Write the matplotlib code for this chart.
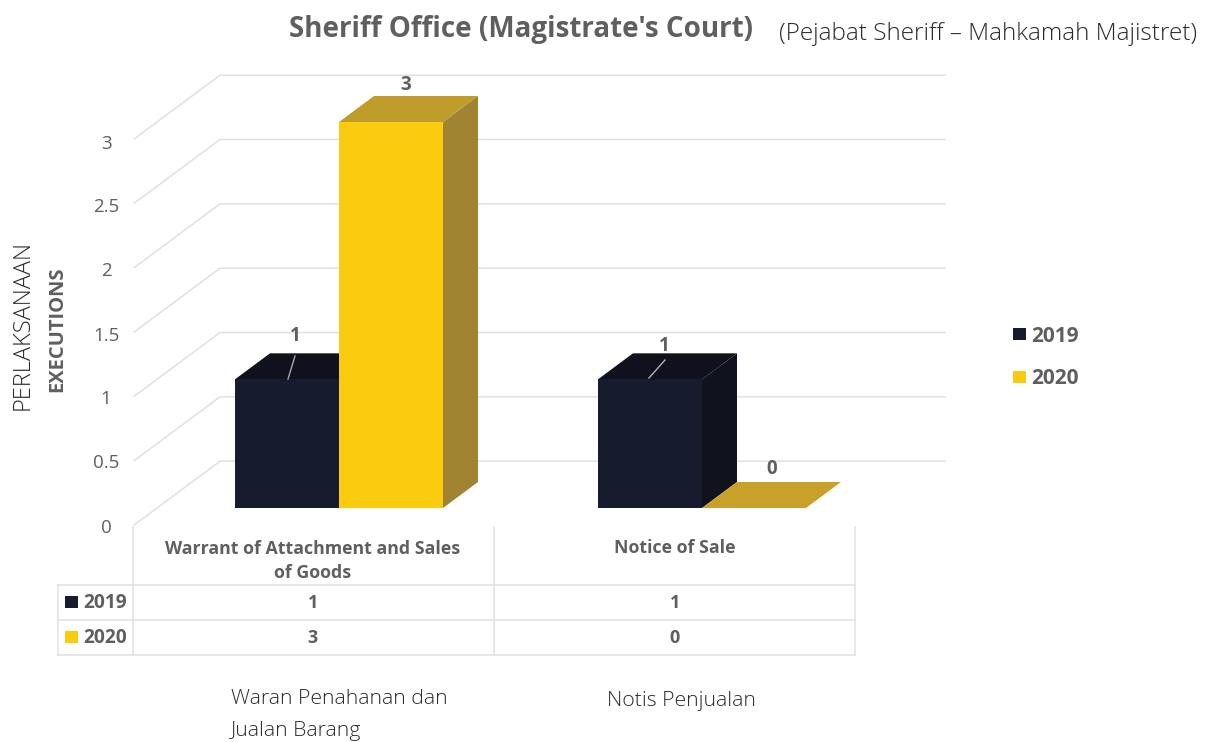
import matplotlib
matplotlib.use('Agg')
import matplotlib.pyplot as plt
from matplotlib.patches import Polygon, Rectangle

categories = ['Warrant of Attachment and Sales\nof Goods', 'Notice of Sale']
years = ['2019', '2020']
values_2019 = [1, 1]
values_2020 = [3, 0]
y_ticks = [0, 0.5, 1, 1.5, 2, 2.5, 3]
y_tick_labels = ['0', '0.5', '1', '1.5', '2', '2.5', '3']

W, H = 1219, 742
# pixels for the fake 3D projection
cat_px = [339, 702]
cat_step = cat_px[1] - cat_px[0]
unit_px = 128.67
zero_px = 508
depth_x = 35 / cat_step
depth_y = 26 / unit_px
bar_w = 104 / cat_step

GREY = '#5f5f5f'
LINE = '#e0e0e0'
NAVY = ('#161b2e', '#0f111c', '#10121e')
GOLD = ('#fbcb10', '#c09c2a', '#a08432')
FLAT_GOLD = '#c9a02a'
FONT = ['Open Sans', 'DejaVu Sans']

fig = plt.figure(figsize=(W / 100, H / 100), dpi=100)

# value axes: x in category units, y in chart values
ax = fig.add_axes([0, 0, 1, 1])
ax.set_xlim(-cat_px[0] / cat_step, (W - cat_px[0]) / cat_step)
ax.set_ylim((zero_px - H) / unit_px, zero_px / unit_px)
ax.axis('off')

# overlay in pixels for the text and table
px = fig.add_axes([0, 0, 1, 1])
px.set_xlim(0, W)
px.set_ylim(H, 0)
px.axis('off')
px.patch.set_alpha(0)


def proj(x, v, d):
    return (x + d * depth_x, v + d * depth_y)


# walls and gridlines
wall_x = (220 - cat_px[0]) / cat_step - 1.8 * depth_x
wall_end = (945 - cat_px[0]) / cat_step - 1.8 * depth_x
for v in y_ticks:
    a = proj(wall_x, v, -0.65)
    b = proj(wall_x, v, 1.8)
    c = proj(wall_end, v, 1.8)
    ax.plot([a[0], b[0], c[0]], [a[1], b[1], c[1]], color=LINE, lw=1.1, zorder=1)


def draw_bar(x0, v, cols, z):
    x1 = x0 + bar_w
    if v == 0:
        pts = [proj(x0, 0, 0), proj(x1, 0, 0), proj(x1, 0, 1), proj(x0, 0, 1)]
        ax.add_patch(Polygon(pts, fc=FLAT_GOLD, ec='none', zorder=z))
        return
    side = [proj(x1, 0, 0), proj(x1, v, 0), proj(x1, v, 1), proj(x1, 0, 1)]
    top = [proj(x0, v, 0), proj(x1, v, 0), proj(x1, v, 1), proj(x0, v, 1)]
    ax.add_patch(Polygon(side, fc=cols[2], ec='none', zorder=z))
    ax.add_patch(Polygon(top, fc=cols[1], ec='none', zorder=z))
    ax.add_patch(Rectangle((x0, 0), bar_w, v, fc=cols[0], ec='none', zorder=z + 0.1))


for i in range(len(categories)):
    draw_bar(i - bar_w, values_2019[i], NAVY, 3 + i)
    draw_bar(i, values_2020[i], GOLD, 3.5 + i)

# data labels
lab_kw = dict(ha='center', va='center', color=GREY, fontsize=13.5, fontweight='bold', family=FONT)
px.text(295, 336, str(values_2019[0]), **lab_kw)
px.text(406, 85, str(values_2020[0]), **lab_kw)
px.text(664, 346, str(values_2019[1]), **lab_kw)
px.text(772, 469, str(values_2020[1]), **lab_kw)
px.plot([288, 295], [379, 356], color='#a8a8a8', lw=1)
px.plot([649, 665], [378, 360], color='#b0b0b8', lw=1)

# y tick labels
tick_y = [528, 463, 399, 336, 271, 207, 144]
for lab, y in zip(y_tick_labels, tick_y):
    px.text(106, y, lab, ha='center', va='center', color=GREY, fontsize=13.5, family=FONT)

# table
for x, y0, y1 in [(133, 527, 655), (494, 527, 655), (855, 527, 655), (58, 585, 655)]:
    px.plot([x, x], [y0, y1], color=LINE, lw=1.1)
for y in [585, 620, 655]:
    px.plot([58, 855], [y, y], color=LINE, lw=1.1)

bold = dict(color=GREY, fontweight='bold', family=FONT)
px.text(313, 561, categories[0], ha='center', va='center', fontsize=12.8, linespacing=1.5, **bold)
px.text(675, 548, categories[1], ha='center', va='center', fontsize=12.8, **bold)
row_y = [603, 638]
series = [values_2019, values_2020]
colours = [NAVY[0], GOLD[0]]
for y, yr, vals, col in zip(row_y, years, series, colours):
    px.add_patch(Rectangle((65, y - 7), 13, 12, fc=col, ec='none'))
    px.text(83, y, yr, ha='left', va='center', fontsize=13.8, **bold)
    px.text(313, y, str(vals[0]), ha='center', va='center', fontsize=13, **bold)
    px.text(675, y, str(vals[1]), ha='center', va='center', fontsize=13, **bold)

# legend
for y, yr, col in zip([334, 377], years, colours):
    px.add_patch(Rectangle((1013, y - 6), 13, 12, fc=col, ec='none'))
    px.text(1031, y + 2, yr, ha='left', va='center', fontsize=15, **bold)

# titles and axis names
px.text(521, 30, "Sheriff Office (Magistrate's Court)", ha='center', va='center',
        fontsize=20, **bold)
thin = dict(color='#2a2a2a', family=FONT, fontweight='light')
px.text(779, 34, '(Pejabat Sheriff – Mahkamah Majistret)', ha='left', va='center', fontsize=17.5, **thin)
px.text(23, 325, 'PERLAKSANAAN', rotation=90, ha='center', va='center', fontsize=17, **thin)
px.text(57, 329, 'EXECUTIONS', rotation=90, ha='center', va='center', fontsize=14.5, **bold)
px.text(231, 699, 'Waran Penahanan dan', ha='left', va='center', fontsize=15.3, **thin)
px.text(231, 731, 'Jualan Barang', ha='left', va='center', fontsize=15.3, **thin)
px.text(607, 701, 'Notis Penjualan', ha='left', va='center', fontsize=15.3, **thin)

fig.savefig('out.png', dpi=100)
